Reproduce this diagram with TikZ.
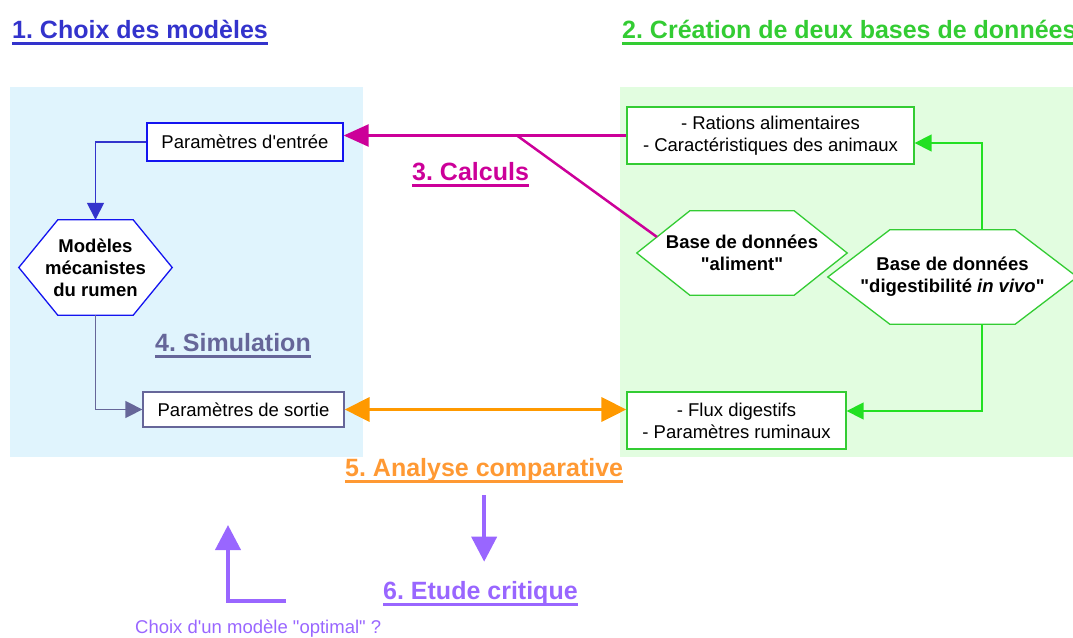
\documentclass[tikz,border=0pt]{standalone}
\usepackage{fontspec}
\setmainfont{Liberation Sans}[Ligatures=TeXOff]
\usetikzlibrary{arrows.meta}
\usetikzlibrary{calc}
\frenchspacing

\pgfdeclarelayer{fond}
\pgfdeclarelayer{hex}
\pgfsetlayers{fond,hex,main}

\definecolor{bleu}{HTML}{3333CC}
\definecolor{bleuvif}{HTML}{1414F0}
\definecolor{ardoise}{HTML}{666699}
\definecolor{rose}{HTML}{CC0099}
\definecolor{orangeA}{HTML}{FF9933}
\definecolor{orangeF}{HTML}{FF9900}
\definecolor{vert}{HTML}{33CC33}
\definecolor{vertvif}{HTML}{22E022}
\definecolor{mauve}{HTML}{9966FF}
\definecolor{fondbleu}{HTML}{E0F4FD}
\definecolor{fondvert}{HTML}{E2FDE0}

\newcommand{\corps}{\fontsize{18.5}{22}\selectfont}
\newcommand{\policetitre}{\fontsize{25}{30}\selectfont\bfseries}

% hexagon round a named node: name, depth, colour
\newcommand{\hexa}[3]{%
  \coordinate (#1-nw) at ([xshift=#2]#1.north west);
  \coordinate (#1-ne) at ([xshift=-#2]#1.north east);
  \coordinate (#1-se) at ([xshift=-#2]#1.south east);
  \coordinate (#1-sw) at ([xshift=#2]#1.south west);
  \begin{pgfonlayer}{hex}
    \draw[#3, fill=white, line width=1.3pt] (#1.west) -- (#1-nw) -- (#1-ne)
      -- (#1.east) -- (#1-se) -- (#1-sw) -- cycle;
  \end{pgfonlayer}}

\begin{document}
\begin{tikzpicture}[
		x=1pt, y=-1pt,
		boite/.style={draw, fill=white, line width=1.3pt, inner sep=0pt, align=center, font=\corps},
		hexnode/.style={inner sep=0pt, align=center, font=\corps\bfseries},
		titre/.style={inner sep=0pt, anchor=base west, font=\policetitre},
		fleche/.style={line width=1.5pt, -{Triangle[length=17pt,width=17pt]}},
		grosse/.style={line width=4pt, -{Triangle[length=25pt,width=25pt]}}
	]
		\useasboundingbox (0,0) rectangle (1073,637);

		% Backgrounds
		\begin{pgfonlayer}{fond}
			\fill[fondbleu] (10,87) rectangle (363,457);
			\fill[fondvert] (620,87) rectangle (1073,457);
		\end{pgfonlayer}

		% Titles
		\node[titre, text=bleu] (t1) at (12,38) {1. Choix des modèles};
		\node[titre, text=vert] (t2) at (622,38) {2. Création de deux bases de données};
		\node[titre, text=rose] (t3) at (412,180) {3. Calculs};
		\node[titre, text=ardoise] (t4) at (155,351) {4. Simulation};
		\node[titre, text=orangeA] (t5) at (345,476) {5. Analyse comparative};
		\node[titre, text=mauve] (t6) at (383,599) {6. Etude critique};
		\node[anchor=base west, inner sep=0pt, font=\corps, text=mauve] (choix) at (135,633) {Choix d'un modèle "optimal" ?};
		\foreach \t/\c in {t1/bleu, t2/vert, t3/rose, t4/ardoise, t5/orangeA, t6/mauve}
			\draw[\c, line width=3pt] ([yshift=-5.5pt]\t.base west) -- ([yshift=-5.5pt]\t.base east);

		% Boxes
		\node[boite, draw=bleuvif, minimum width=196pt, minimum height=38pt] (entree) at (245,142) {Paramètres d'entrée};
		\node[boite, draw=ardoise, minimum width=201pt, minimum height=35pt] (sortie) at (243.5,409.5) {Paramètres de sortie};
		\node[boite, draw=vert, minimum width=287pt, minimum height=57pt] (rations) at (770.5,135.5) {- Rations alimentaires\\- Caractéristiques des animaux};
		\node[boite, draw=vert, minimum width=219pt, minimum height=57pt] (flux) at (736.5,420.5) {- Flux digestifs\\- Paramètres ruminaux};

		% Hexagons
		\node[hexnode, minimum width=153pt, minimum height=95pt] (modele) at (95.5,267.5) {Modèles\\mécanistes\\du rumen};
		\hexa{modele}{39pt}{bleuvif}
		\node[hexnode, minimum width=210pt, minimum height=84pt] (aliment) at (742,253) {Base de données\\"aliment"};
		\hexa{aliment}{53pt}{vert}
		\node[hexnode, minimum width=249pt, minimum height=94pt] (digest) at (952.5,277) {Base de données\\"digestibilité \textit{in vivo}"};
		\hexa{digest}{62pt}{vert}

		% Arrows
		\draw[fleche, bleu] (entree.west) -| (modele.north);
		\draw[fleche, ardoise] (modele.south) |- (sortie.west);
		\draw[fleche, vertvif] ([xshift=29.5pt]digest.north) |- ([yshift=-7.5pt]rations.east);
		\draw[fleche, vertvif] ([xshift=29.5pt]digest.south) |- ([yshift=9.5pt]flux.east);
		\draw[rose, line width=2.5pt, -{Triangle[length=25pt,width=22pt]}] (rations.west) -- (rations.west -| entree.east);
		\draw[rose, line width=2.5pt] ($(rations.west)!0.387!(rations.west -| entree.east)$) -- ($(aliment.west)!0.38!(aliment-nw)$);
		\draw[orangeF, line width=3.5pt, {Triangle[length=25pt,width=24pt]}-{Triangle[length=25pt,width=24pt]}] (sortie.east) -- (sortie.east -| flux.west);
		\draw[mauve, grosse, shorten <=14pt, shorten >=19pt] (t5.south) -- (t5.south |- t6.north);
		\coordinate (depart) at (286,601);
		\coordinate (retour) at (228,525);
		\draw[mauve, grosse] (depart) -| (retour);
	\end{tikzpicture}
\end{document}
